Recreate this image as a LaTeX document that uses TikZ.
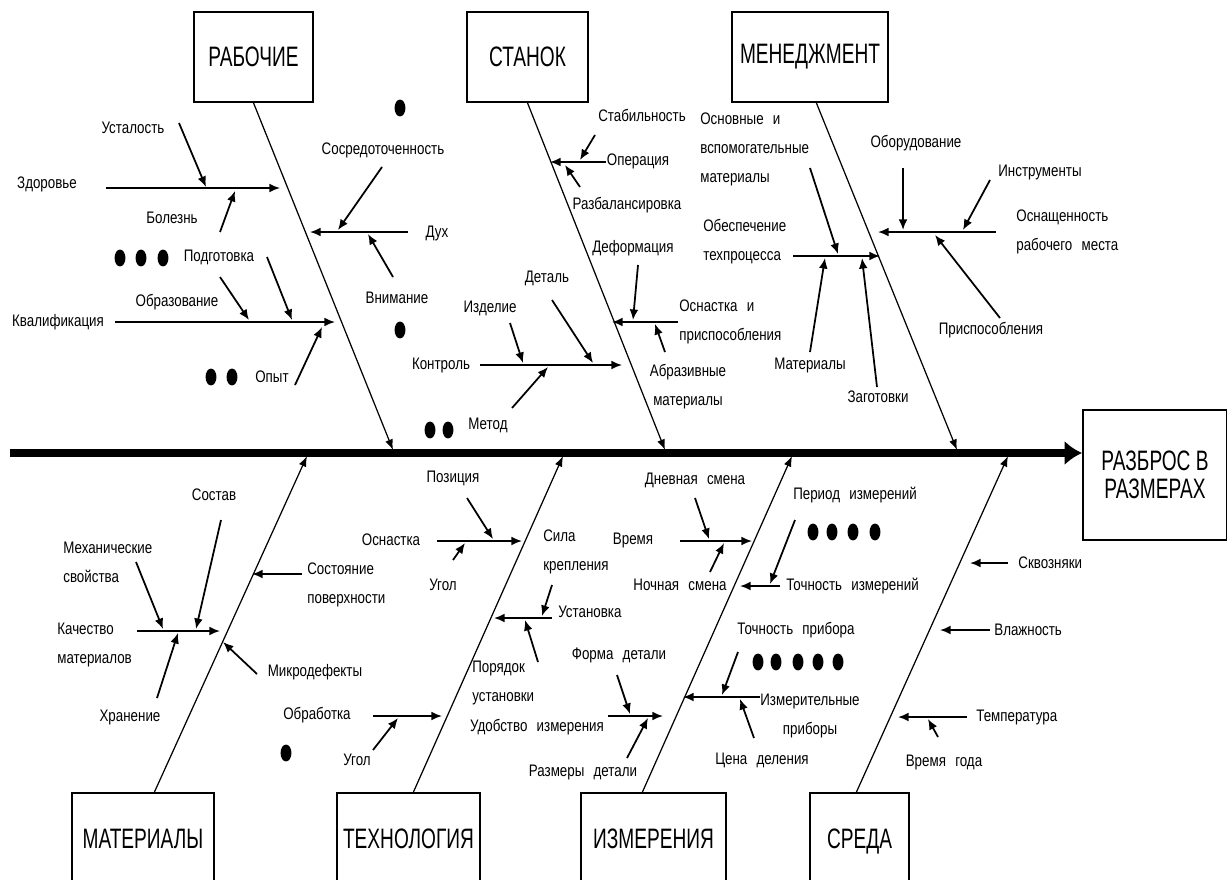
\documentclass[tikz,border=0pt]{standalone}
\usepackage{fontspec}
\setmainfont[FakeStretch=0.8,WordSpace=2.5]{Liberation Sans}
\newfontfamily\boxfont[FakeStretch=0.68]{Liberation Sans}
\usetikzlibrary{arrows.meta}

\begin{document}
\begin{tikzpicture}[x=0.02cm,y=-0.02cm,
	box/.style={draw,line width=1pt,inner sep=0pt,minimum height=1.8cm,align=center,font=\boxfont\fontsize{16}{16}\selectfont},
	lbl/.style={inner sep=0pt,align=left,font=\fontsize{9.5}{16.5}\selectfont},
	bone/.style={line width=0.7pt,-{Latex[length=6pt,width=4.5pt]}},
	twig/.style={line width=1pt,-{Latex[length=6pt,width=5pt]}},
	spot/.style={fill=black}]

	\fill[white] (0,0) rectangle (1227,879);
	\useasboundingbox (0,0) rectangle (1227,879);

	% spine
	\node[box,minimum width=2.88cm,minimum height=2.6cm] (res) at (1155,475) {РАЗБРОС В\\РАЗМЕРАХ};
	\coordinate (tail) at (10,453);
	\draw[line width=4pt,-{Latex[length=10pt,width=14pt]}] (tail) -- (tail -| res.west);

	% category boxes
	\node[box,minimum width=2.38cm] (rab) at (253.5,57) {РАБОЧИЕ};
	\node[box,minimum width=2.42cm] (stan) at (527.5,57) {СТАНОК};
	\node[box,minimum width=3.12cm] (men) at (810,57) {МЕНЕДЖМЕНТ};
	\node[box,minimum width=2.84cm,minimum height=2cm] (mat) at (143,843) {\raisebox{4.5pt}{МАТЕРИАЛЫ}};
	\node[box,minimum width=2.86cm,minimum height=2cm] (tech) at (408.5,843) {\raisebox{4.5pt}{ТЕХНОЛОГИЯ}};
	\node[box,minimum width=2.9cm,minimum height=2cm] (izm) at (653.5,843) {\raisebox{4.5pt}{ИЗМЕРЕНИЯ}};
	\node[box,minimum width=1.98cm,minimum height=2cm] (sred) at (859.5,843) {\raisebox{4.5pt}{СРЕДА}};

	% bones
	\coordinate (rabE) at (393,450);
	\coordinate (stanE) at (665,450);
	\coordinate (menS) at (816,102);
	\coordinate (menE) at (957,450);
	\coordinate (matS) at (154,793);
	\coordinate (matE) at (307,456);
	\coordinate (techS) at (413,793);
	\coordinate (techE) at (563,456);
	\coordinate (izmS) at (642,793);
	\coordinate (izmE) at (792,456);
	\coordinate (sredS) at (856,793);
	\coordinate (sredE) at (1008,456);
	\draw[bone] (rab.south) -- (rabE);
	\draw[bone] (stan.south) -- (stanE);
	\draw[bone] (menS) -- (menE);
	\draw[bone] (matS) -- (matE);
	\draw[bone] (techS) -- (techE);
	\draw[bone] (izmS) -- (izmE);
	\draw[bone] (sredS) -- (sredE);

	% rabochie
	\node[lbl] (ustal) at (133,128) {Усталость};
	\node[lbl] (zdor) at (47,184) {Здоровье};
	\node[lbl] (bolez) at (172,218) {Болезнь};
	\node[lbl] (podg) at (219,257) {Подготовка};
	\node[lbl] (obraz) at (177,302) {Образование};
	\node[lbl] (kval) at (58,322) {Квалификация};
	\node[lbl] (opyt) at (272,377) {Опыт};
	\node[lbl] (sosr) at (383,150) {Сосредоточенность};
	\node[lbl] (duh) at (437,233) {Дух};
	\node[lbl] (vnim) at (397,298) {Внимание};
	\coordinate (zdorS) at (106,188);
	\coordinate (zdorT) at (280,188);
	\coordinate (kvalS) at (115,322);
	\coordinate (kvalT) at (335,322);
	\coordinate (duhS) at (408,232);
	\coordinate (duhT) at (310,232);
	\draw[twig] (zdorS) -- (zdorT);
	\draw[twig] (179,123) coordinate (ustalS) -- (206,187) coordinate (ustalT);
	\draw[twig] (220,232) coordinate (bolezS) -- (235,191) coordinate (bolezT);
	\draw[twig] (kvalS) -- (kvalT);
	\draw[twig] (220,277) coordinate (obrazS) -- (249,320) coordinate (obrazT);
	\draw[twig] (267,257) coordinate (podgS) -- (292,320) coordinate (podgT);
	\draw[twig] (295,385) coordinate (opytS) -- (322,327) coordinate (opytT);
	\draw[twig] (duhS) -- (duhT);
	\draw[twig] (382,167) coordinate (sosrS) -- (338,230) coordinate (sosrT);
	\draw[twig] (393,277) coordinate (vnimS) -- (368,234) coordinate (vnimT);
	\foreach \x/\y in {400/108,120/258,141/258,163/258,211/377,232/377,400/330,430/430,448/430}
		\fill[spot] (\x,\y) ellipse [x radius=3.1pt,y radius=4.8pt];

	% stanok
	\node[lbl] (stab) at (642,115) {Стабильность};
	\node[lbl] (oper) at (638,161) {Операция};
	\node[lbl] (razb) at (627,205) {Разбалансировка};
	\node[lbl] (deform) at (633,248) {Деформация};
	\node[lbl,anchor=west] (osn) at (679,322) {Оснастка и\\приспособления};
	\node[lbl,align=center] (abraz) at (688,387) {Абразивные\\материалы};
	\node[lbl] (detal) at (547,278) {Деталь};
	\node[lbl] (izdel) at (490,308) {Изделие};
	\node[lbl] (kontr) at (441,365) {Контроль};
	\node[lbl] (metod) at (488,425) {Метод};
	\coordinate (operS) at (606,162);
	\coordinate (operT) at (550,162);
	\coordinate (osnS) at (678,322);
	\coordinate (osnT) at (612,322);
	\coordinate (kontrS) at (480,365);
	\coordinate (kontrT) at (622,365);
	\draw[twig] (operS) -- (operT);
	\draw[twig] (595,135) coordinate (stabS) -- (580,160) coordinate (stabT);
	\draw[twig] (580,187) coordinate (razbS) -- (565,165) coordinate (razbT);
	\draw[twig] (osnS) -- (osnT);
	\draw[twig] (638,265) coordinate (deformS) -- (633,320) coordinate (deformT);
	\draw[twig] (665,352) coordinate (abrazS) -- (655,324) coordinate (abrazT);
	\draw[twig] (kontrS) -- (kontrT);
	\draw[twig] (510,323) coordinate (izdelS) -- (523,363) coordinate (izdelT);
	\draw[twig] (552,300) coordinate (detalS) -- (593,363) coordinate (detalT);
	\draw[twig] (512,408) coordinate (metodS) -- (548,367) coordinate (metodT);

	% menedzhment
	\node[lbl,anchor=west] (osnmat) at (700,149) {Основные и\\вспомогательные\\материалы};
	\node[lbl,anchor=west] (obesp) at (703,242) {Обеспечение\\техпроцесса};
	\node[lbl] (mater) at (810,365) {Материалы};
	\node[lbl] (zagot) at (878,397) {Заготовки};
	\node[lbl] (oborud) at (916,143) {Оборудование};
	\node[lbl] (instr) at (1040,172) {Инструменты};
	\node[lbl,anchor=west] (osnash) at (1016,232) {Оснащенность\\рабочего места};
	\node[lbl] (prispos) at (991,330) {Приспособления};
	\coordinate (obespS) at (793,256);
	\coordinate (obespT) at (880,256);
	\coordinate (osnashS) at (996,232);
	\coordinate (osnashT) at (878,232);
	\draw[twig] (obespS) -- (obespT);
	\draw[twig] (810,168) coordinate (osnmatS) -- (838,254) coordinate (osnmatT);
	\draw[twig] (810,352) coordinate (materS) -- (825,258) coordinate (materT);
	\draw[twig] (877,387) coordinate (zagotS) -- (862,258) coordinate (zagotT);
	\draw[twig] (osnashS) -- (osnashT);
	\draw[twig] (903,168) coordinate (oborudS) -- (903,230) coordinate (oborudT);
	\draw[twig] (990,180) coordinate (instrS) -- (963,230) coordinate (instrT);
	\draw[twig] (1000,318) coordinate (prisposS) -- (935,235) coordinate (prisposT);

	% materialy
	\node[lbl] (sostav) at (214,495) {Состав};
	\node[lbl,anchor=west] (meh) at (63,562) {Механические\\свойства};
	\node[lbl,anchor=west] (kach) at (57,645) {Качество\\материалов};
	\node[lbl] (hran) at (130,717) {Хранение};
	\node[lbl,anchor=west] (sostpov) at (307,585) {Состояние\\поверхности};
	\node[lbl] (mikro) at (315,672) {Микродефекты};
	\coordinate (kachS) at (137,631);
	\coordinate (kachT) at (220,631);
	\coordinate (sostpovS) at (302,574);
	\coordinate (sostpovT) at (252,574);
	\draw[twig] (kachS) -- (kachT);
	\draw[twig] (136,562) coordinate (mehS) -- (163,629) coordinate (mehT);
	\draw[twig] (221,520) coordinate (sostavS) -- (196,629) coordinate (sostavT);
	\draw[twig] (157,698) coordinate (hranS) -- (178,633) coordinate (hranT);
	\draw[twig] (sostpovS) -- (sostpovT);
	\draw[twig] (257,674) coordinate (mikroS) -- (223,642) coordinate (mikroT);

	% tekhnologiya
	\node[lbl] (pozic) at (453,478) {Позиция};
	\node[lbl] (osnastka) at (391,540) {Оснастка};
	\node[lbl] (ugolA) at (443,585) {Угол};
	\node[lbl,anchor=west] (sila) at (543,552) {Сила\\крепления};
	\node[lbl,anchor=west] (ustan) at (558,612) {Установка};
	\node[lbl,anchor=west] (poryad) at (472,683) {Порядок\\установки};
	\node[lbl] (obrab) at (317,715) {Обработка};
	\node[lbl] (ugolB) at (357,760) {Угол};
	\coordinate (osnastkaS) at (437,541);
	\coordinate (osnastkaT) at (522,541);
	\coordinate (ustanS) at (552,618);
	\coordinate (ustanT) at (494,618);
	\coordinate (obrabS) at (373,716);
	\coordinate (obrabT) at (442,716);
	\draw[twig] (osnastkaS) -- (osnastkaT);
	\draw[twig] (467,498) coordinate (pozicS) -- (493,539) coordinate (pozicT);
	\draw[twig] (453,560) coordinate (ugolAS) -- (465,543) coordinate (ugolAT);
	\draw[twig] (ustanS) -- (ustanT);
	\draw[twig] (552,585) coordinate (silaS) -- (542,616) coordinate (silaT);
	\draw[twig] (538,662) coordinate (poryadS) -- (525,620) coordinate (poryadT);
	\draw[twig] (obrabS) -- (obrabT);
	\draw[twig] (373,750) coordinate (ugolBS) -- (398,718) coordinate (ugolBT);
	\fill[spot] (286,753) ellipse [x radius=3.1pt,y radius=4.8pt];

	% izmereniya
	\node[lbl] (dnev) at (695,480) {Дневная смена};
	\node[lbl] (vrem) at (633,540) {Время};
	\node[lbl] (noch) at (680,585) {Ночная смена};
	\node[lbl] (period) at (855,495) {Период измерений};
	\node[lbl,anchor=west] (tochizm) at (786,586) {Точность измерений};
	\node[lbl] (tochpr) at (796,630) {Точность прибора};
	\node[lbl,align=center] (izmpr) at (810,716) {Измерительные\\приборы};
	\node[lbl] (cena) at (762,760) {Цена деления};
	\node[lbl] (forma) at (619,655) {Форма детали};
	\node[lbl] (udob) at (537,727) {Удобство измерения};
	\node[lbl] (razm) at (583,772) {Размеры детали};
	\coordinate (vremS) at (680,541);
	\coordinate (vremT) at (752,541);
	\coordinate (tochizmS) at (780,586);
	\coordinate (tochizmT) at (740,586);
	\coordinate (izmprS) at (760,697);
	\coordinate (izmprT) at (683,697);
	\coordinate (udobS) at (608,716);
	\coordinate (udobT) at (663,716);
	\draw[twig] (vremS) -- (vremT);
	\draw[twig] (695,498) coordinate (dnevS) -- (709,539) coordinate (dnevT);
	\draw[twig] (710,572) coordinate (nochS) -- (724,543) coordinate (nochT);
	\draw[twig] (tochizmS) -- (tochizmT);
	\draw[twig] (795,520) coordinate (periodS) -- (770,584) coordinate (periodT);
	\draw[twig] (izmprS) -- (izmprT);
	\draw[twig] (738,652) coordinate (tochprS) -- (722,695) coordinate (tochprT);
	\draw[twig] (754,738) coordinate (cenaS) -- (740,699) coordinate (cenaT);
	\draw[twig] (udobS) -- (udobT);
	\draw[twig] (617,675) coordinate (formaS) -- (630,714) coordinate (formaT);
	\draw[twig] (627,758) coordinate (razmS) -- (648,718) coordinate (razmT);
	\foreach \x in {813,832,853,875}
		\fill[spot] (\x,532) ellipse [x radius=3.1pt,y radius=4.8pt];
	\foreach \x in {758,776,798,818,838}
		\fill[spot] (\x,662) ellipse [x radius=3.1pt,y radius=4.8pt];

	% sreda
	\node[lbl,anchor=west] (skv) at (1018,563) {Сквозняки};
	\node[lbl,anchor=west] (vlazh) at (994,630) {Влажность};
	\node[lbl,anchor=west] (temp) at (976,717) {Температура};
	\node[lbl] (vgod) at (944,762) {Время года};
	\coordinate (skvS) at (1008,563);
	\coordinate (skvT) at (970,563);
	\coordinate (vlazhS) at (990,630);
	\coordinate (vlazhT) at (940,630);
	\coordinate (tempS) at (967,717);
	\coordinate (tempT) at (898,717);
	\draw[twig] (skvS) -- (skvT);
	\draw[twig] (vlazhS) -- (vlazhT);
	\draw[twig] (tempS) -- (tempT);
	\draw[twig] (938,737) coordinate (vgodS) -- (928,719) coordinate (vgodT);

\end{tikzpicture}
\end{document}
